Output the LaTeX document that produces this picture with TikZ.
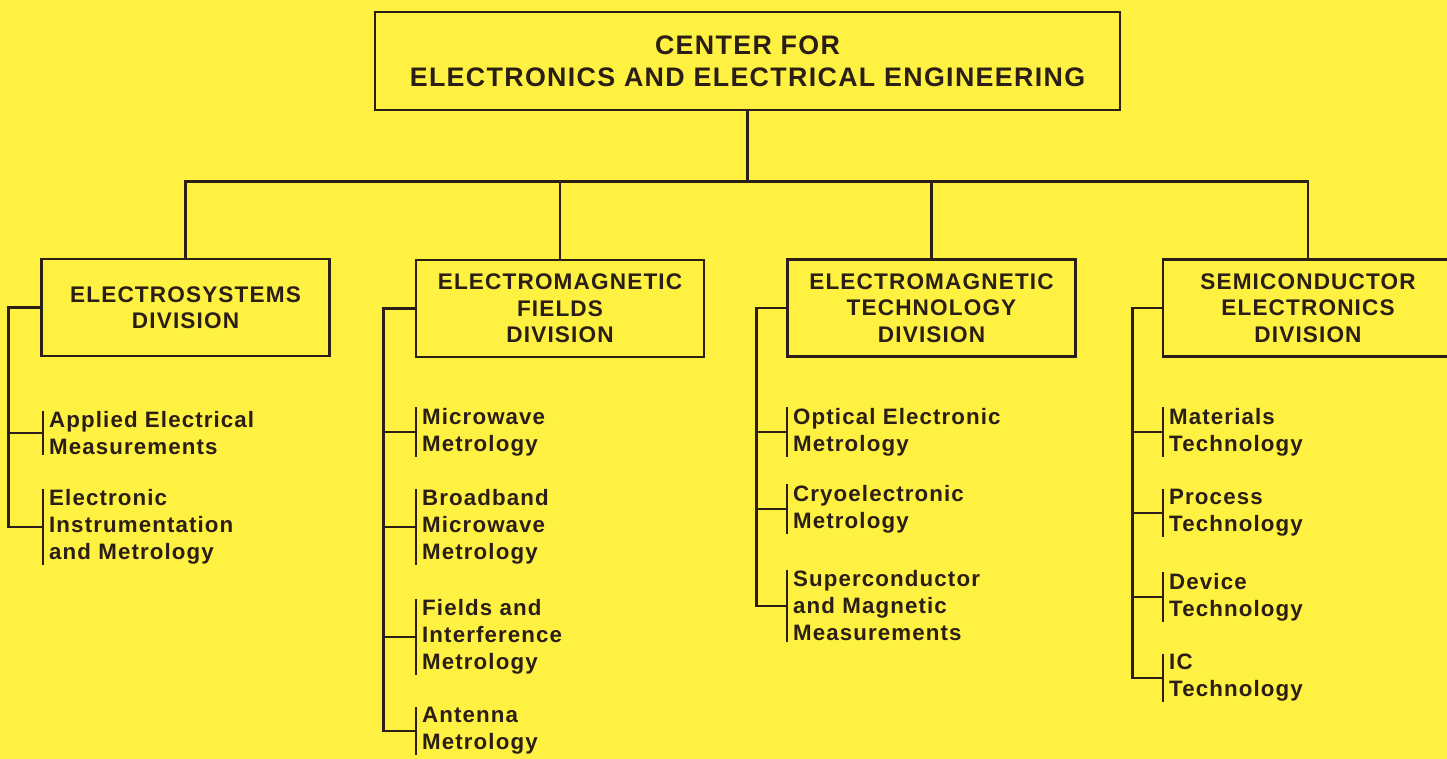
\documentclass[tikz,border=0pt]{standalone}
\usepackage{fontspec}
\setmainfont{Liberation Sans}[LetterSpace=5]
\usepackage{xcolor}
\usetikzlibrary{positioning}
\definecolor{chartbg}{RGB}{254,241,66}
\definecolor{ink}{RGB}{42,30,22}

\begin{document}
\begin{tikzpicture}[
	x=1pt, y=-1pt,
	link/.style={draw=ink, line width=2.9pt, line join=miter},
	centerbox/.style={rectangle, draw=ink, line width=2.9pt, text=ink, minimum width=745pt, minimum height=98pt, align=center, font=\fontsize{26.8}{32}\selectfont\bfseries},
	division/.style={rectangle, draw=ink, line width=2.9pt, text=ink, minimum width=288pt, minimum height=97pt, align=center, font=\fontsize{22.6}{26.5}\selectfont\bfseries},
	unit/.style={anchor=west, align=left, text=ink, inner xsep=6pt, inner ysep=0.5pt, font=\fontsize{22.3}{27}\selectfont\bfseries}
	]
	
	% Background
	\fill[chartbg] (0,0) rectangle (1447,759);
	\useasboundingbox (0,0) rectangle (1447,759);
	
	% Center
	\node[centerbox] (ceee) at (747.5,61) {CENTER FOR\\ELECTRONICS AND ELECTRICAL ENGINEERING};
	
	% Divisions
	\node[division] (es) at (185.5,307.5) {ELECTROSYSTEMS\\DIVISION};
	\node[division] (emf) at (560,308.5) {ELECTROMAGNETIC\\FIELDS\\DIVISION};
	\node[division] (emt) at (931.5,308) {ELECTROMAGNETIC\\TECHNOLOGY\\DIVISION};
	\node[division, minimum width=290pt] (sem) at (1308,308) {SEMICONDUCTOR\\ELECTRONICS\\DIVISION};
	
	% Center to divisions
	\draw[link] (ceee.south) -- ++(0,70) coordinate (bus);
	\draw[link] (es.north) |- (bus) -| (sem.north);
	\draw[link] (emf.north) -- (emf.north |- bus);
	\draw[link] (emt.north) -- (emt.north |- bus);
	
	% Electrosystems groups
	\node[unit] (es1) at (43,433) {Applied Electrical\\Measurements};
	\node[unit] (es2) at (43,527) {Electronic\\Instrumentation\\and Metrology};
	
	% Electromagnetic Fields groups
	\node[unit] (emf1) at (416,432) {Microwave\\Metrology};
	\node[unit] (emf2) at (416,527) {Broadband\\Microwave\\Metrology};
	\node[unit] (emf3) at (416,637) {Fields and\\Interference\\Metrology};
	\node[unit] (emf4) at (416,731) {Antenna\\Metrology};
	
	% Electromagnetic Technology groups
	\node[unit] (emt1) at (787,432) {Optical Electronic\\Metrology};
	\node[unit] (emt2) at (787,509) {Cryoelectronic\\Metrology};
	\node[unit] (emt3) at (787,606) {Superconductor\\and Magnetic\\Measurements};
	
	% Semiconductor Electronics groups
	\node[unit] (sem1) at (1163,432) {Materials\\Technology};
	\node[unit] (sem2) at (1163,513) {Process\\Technology};
	\node[unit] (sem3) at (1163,597) {Device\\Technology};
	\node[unit] (sem4) at (1163,678) {IC\\Technology};
	
	% Bars beside the groups
	\foreach \g in {es1,es2,emf1,emf2,emf3,emf4,emt1,emt2,emt3,sem1,sem2,sem3,sem4}
		\draw[link] (\g.north west) -- (\g.south west);
	
	% Divisions to groups
	\draw[link] (es.west) -- ++(-32,0) coordinate (esT) |- (es2.west);
	\draw[link] (esT |- es1.west) -- (es1.west);
	
	\draw[link] (emf.west) -- ++(-31,0) coordinate (emfT) |- (emf4.west);
	\foreach \g in {emf1,emf2,emf3}
		\draw[link] (emfT |- \g.west) -- (\g.west);
	
	\draw[link] (emt.west) -- ++(-30,0) coordinate (emtT) |- (emt3.west);
	\foreach \g in {emt1,emt2}
		\draw[link] (emtT |- \g.west) -- (\g.west);
	
	\draw[link] (sem.west) -- ++(-29,0) coordinate (semT) |- (sem4.west);
	\foreach \g in {sem1,sem2,sem3}
		\draw[link] (semT |- \g.west) -- (\g.west);
	
\end{tikzpicture}
\end{document}
